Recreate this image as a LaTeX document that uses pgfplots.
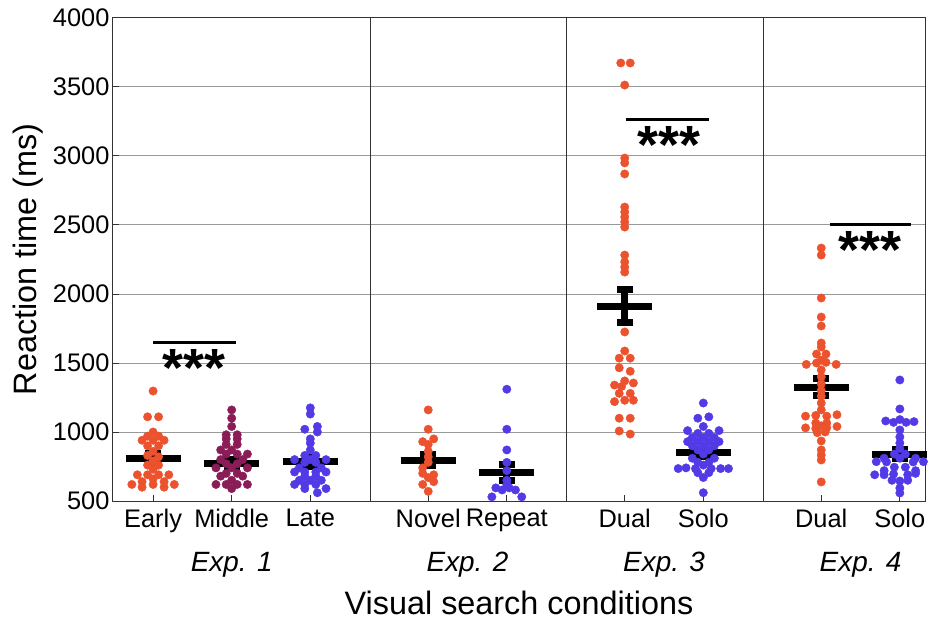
\documentclass[border=0pt]{standalone}
\usepackage{fontspec}
\setmainfont{Liberation Sans}
\usepackage{pgfplots}
\pgfplotsset{compat=1.18}

\definecolor{cRed}{RGB}{235,82,45}
\definecolor{cMag}{RGB}{138,28,88}
\definecolor{cBlu}{RGB}{82,58,230}
\newcommand{\tickfont}{\fontsize{25.5}{30}\selectfont}
\newcommand{\expfont}{\fontsize{28}{32}\selectfont\itshape}
\newcommand{\labfont}{\fontsize{32.5}{38}\selectfont}
\newcommand{\starfont}{\fontsize{54}{60}\selectfont\bfseries}

\begin{document}
\begin{tikzpicture}
\begin{axis}[
  scale only axis,
  width=812bp, height=483bp,
  xmin=0.49, xmax=10.82,
  ymin=500, ymax=4000,
  xtick={1,2,3,4.5,5.5,7,8,9.5,10.5},
  xticklabels={Early,Middle,Late,Novel,Repeat,Dual,Solo,Dual,Solo},
  ytick={500,1000,...,4000},
  scaled y ticks=false,
  /pgf/number format/assume math mode=true,
  /pgf/number format/1000 sep={},
  tick label style={font=\tickfont},
  xticklabel style={yshift=-5bp},
  tick align=inside,
  major tick length=6bp,
  xtick pos=bottom, ytick pos=left,
  ymajorgrids=true,
  grid style={black!40, line width=1bp},
  axis line style={black!80, line width=1bp},
  tick style={black!80, line width=1bp},
  xlabel={Visual search conditions},
  ylabel={Reaction time (ms)},
  label style={font=\labfont},
  xlabel style={at={(axis description cs:0.5,-0.21)}, anchor=center},
  ylabel style={at={(axis description cs:-0.104,0.5)}, rotate=0, anchor=center},
  clip=false,
  mark size=4.2bp,
  unbounded coords=jump,
]
% group separators
\addplot[black!80, line width=1bp] coordinates {(3.77,500) (3.77,4000)};
\addplot[black!80, line width=1bp] coordinates {(6.26,500) (6.26,4000)};
\addplot[black!80, line width=1bp] coordinates {(8.76,500) (8.76,4000)};

%% Exp. 1
% Early
\addplot[only marks, mark=*, color=cRed] coordinates {
 (1,1297) (0.93,1110) (1.07,1110) (1,1000) (0.93,970) (1.07,970)
 (0.86,940) (1,940) (1.14,940) (0.93,900) (1.07,900) (1,860)
 (0.93,830) (1.07,820) (1,790) (0.93,760) (1.07,760) (1,730)
 (0.8,690) (0.93,690) (1.07,690) (1.2,690) (1,660) (0.86,640) (1.14,640)
 (0.73,620) (1,620) (1.27,620) (0.86,600) (1.14,600)
};
% Middle
\addplot[only marks, mark=*, color=cMag] coordinates {
 (2,1160) (2,1100) (2,1040) (1.93,980) (2.07,980) (1.93,950) (2.07,950)
 (1.93,910) (2.07,910) (1.86,870) (2,870) (1.93,840) (2.07,840) (2.2,840)
 (1.86,800) (2.14,800) (1.93,770) (2.07,770) (1.8,740) (2,740) (2.2,740)
 (1.93,700) (2.07,700) (1.86,680) (2.14,680) (2,650)
 (1.8,620) (1.93,620) (2.07,620) (2.2,620) (2,590)
};
% Late
\addplot[only marks, mark=*, color=cBlu] coordinates {
 (3,1175) (3,1130) (3.09,1040) (2.93,1020) (3.09,1000) (3,950) (3,920)
 (3,870) (2.93,830) (3.07,830) (2.8,800) (3,800) (3.2,800) (2.93,780)
 (3.07,780) (2.86,740) (3.14,740) (2.8,710) (2.93,710) (3.07,710) (3.2,710)
 (2.93,680) (3.07,680) (2.86,650) (3,650) (3.14,650)
 (2.8,620) (2.93,620) (3.07,620) (2.93,590) (3.2,590) (3.09,560)
};

%% Exp. 2
% Novel
\addplot[only marks, mark=*, color=cRed] coordinates {
 (4.5,1160) (4.5,1020) (4.57,950) (4.43,930) (4.5,910) (4.5,860)
 (4.5,820) (4.5,780) (4.43,740) (4.43,700) (4.57,690) (4.5,670)
 (4.57,640) (4.43,620) (4.5,570)
};
% Repeat
\addplot[only marks, mark=*, color=cBlu] coordinates {
 (5.5,1310) (5.5,1020) (5.5,870) (5.5,780) (5.5,720) (5.5,650) (5.5,620)
 (5.36,595) (5.44,580) (5.53,595) (5.61,580) (5.31,530) (5.69,530)
};

%% Exp. 3
% Dual
\addplot[only marks, mark=*, color=cRed] coordinates {
 (6.95,3674) (7.07,3674) (7,3514) (7,2985) (7,2950) (7,2870)
 (7,2630) (7,2594) (7,2558) (7,2522) (7,2485)
 (7,2282) (7,2232) (7,2195) (7,2159) (7,1725) (7,1587)
 (6.93,1535) (7.07,1535) (6.93,1465) (7.07,1440)
 (6.87,1340) (7,1370) (7.11,1355) (6.96,1330)
 (6.93,1280) (7.07,1280) (6.87,1220) (7,1230) (7.11,1230)
 (6.93,1100) (7.07,1100) (6.93,1007) (7.07,985)
};
% Solo
\addplot[only marks, mark=*, color=cBlu] coordinates {
 (8,1210) (8.07,1110) (7.93,1100) (8,1040) (7.8,1010) (8.2,1010)
 (7.93,990) (8.07,990) (7.86,960) (8,960) (8.14,960)
 (7.8,930) (7.93,930) (8.07,930) (8.2,930) (7.86,900) (8,900) (8.14,900)
 (7.93,870) (8.07,870) (8,840) (7.86,810) (8.14,810) (7.93,780) (8.07,780)
 (7.68,735) (7.78,740) (7.9,735) (8,760) (8.1,735) (8.22,735) (8.32,735)
 (7.93,705) (8.07,705) (8,670) (8,560)
};

%% Exp. 4
% Dual
\addplot[only marks, mark=*, color=cRed] coordinates {
 (9.5,2333) (9.5,2282) (9.5,1971) (9.5,1833) (9.5,1768) (9.5,1645) (9.5,1616)
 (9.44,1565) (9.56,1565) (9.5,1520) (9.31,1490) (9.44,1500) (9.56,1505) (9.69,1490)
 (9.5,1450) (9.5,1400) (9.5,1350) (9.5,1300) (9.5,1260) (9.5,1210) (9.5,1160)
 (9.3,1115) (9.43,1120) (9.57,1115) (9.7,1125) (9.43,1065) (9.57,1065)
 (9.3,1030) (9.43,1025) (9.5,1045) (9.57,1030) (9.7,1040) (9.45,995) (9.55,1000)
 (9.5,935) (9.5,870) (9.5,833) (9.5,797) (9.5,638)
};
% Solo
\addplot[only marks, mark=*, color=cBlu] coordinates {
 (10.5,1377) (10.5,1167) (10.32,1080) (10.42,1070) (10.5,1090) (10.58,1070) (10.68,1075)
 (10.5,1015) (10.5,964) (10.5,920) (10.5,880) (10.43,840) (10.57,840)
 (10.3,810) (10.5,810) (10.7,810) (10.2,785) (10.33,783) (10.67,783) (10.8,785)
 (10.43,745) (10.57,745) (10.3,720) (10.7,720)
 (10.18,690) (10.3,690) (10.42,695) (10.6,690) (10.7,700)
 (10.4,650) (10.5,645) (10.6,650) (10.5,594) (10.5,558)
};

% mean bars
\addplot[black, line width=7bp] coordinates {
 (0.65,810) (1.35,810) (1,nan)
 (1.65,775) (2.35,775) (2,nan)
 (2.65,783) (3.35,783) (3,nan)
 (4.15,797) (4.85,797) (4.5,nan)
 (5.15,708) (5.85,708) (5.5,nan)
 (6.65,1913) (7.35,1913) (7,nan)
 (7.65,848) (8.35,848) (8,nan)
 (9.15,1326) (9.85,1326) (9.5,nan)
 (10.15,840) (10.85,840)
};

% SEM error bars: stems
\addplot[black, line width=7bp] coordinates {
 (1,775) (1,845) (1,nan)
 (2,747) (2,803) (2,nan)
 (3,751) (3,815) (3,nan)
 (4.5,754) (4.5,840) (4.5,nan)
 (5.5,650) (5.5,766) (5.5,nan)
 (7,1793) (7,2033) (7,nan)
 (8,823) (8,873) (8,nan)
 (9.5,1264) (9.5,1388) (9.5,nan)
 (10.5,810) (10.5,870)
};
% SEM error bars: caps
\addplot[black, line width=7bp] coordinates {
 (0.9,775) (1.1,775) (1,nan) (0.9,845) (1.1,845) (1,nan)
 (1.9,747) (2.1,747) (2,nan) (1.9,803) (2.1,803) (2,nan)
 (2.9,751) (3.1,751) (3,nan) (2.9,815) (3.1,815) (3,nan)
 (4.4,754) (4.6,754) (4.5,nan) (4.4,840) (4.6,840) (4.5,nan)
 (5.4,650) (5.6,650) (5.5,nan) (5.4,766) (5.6,766) (5.5,nan)
 (6.9,1793) (7.1,1793) (7,nan) (6.9,2033) (7.1,2033) (7,nan)
 (7.9,823) (8.1,823) (8,nan) (7.9,873) (8.1,873) (8,nan)
 (9.4,1264) (9.6,1264) (9.5,nan) (9.4,1388) (9.6,1388) (9.5,nan)
 (10.4,810) (10.6,810) (10.5,nan) (10.4,870) (10.6,870)
};

% significance
\addplot[black, line width=3bp] coordinates {(1.0,1652) (2.06,1652)};
\addplot[black, line width=3bp] coordinates {(7.02,3268) (8.07,3268)};
\addplot[black, line width=3bp] coordinates {(9.61,2507) (10.64,2507)};
\node[font=\starfont, anchor=base, inner sep=0pt, yshift=-31bp] at (axis cs:1.52,1551) {***};
\node[font=\starfont, anchor=base, inner sep=0pt, yshift=-31bp] at (axis cs:7.56,3167) {***};
\node[font=\starfont, anchor=base, inner sep=0pt, yshift=-31bp] at (axis cs:10.12,2409) {***};

% experiment labels
\node[font=\expfont, anchor=center, yshift=-64bp] at (axis cs:2,500) {Exp. 1};
\node[font=\expfont, anchor=center, yshift=-64bp] at (axis cs:5,500) {Exp. 2};
\node[font=\expfont, anchor=center, yshift=-64bp] at (axis cs:7.5,500) {Exp. 3};
\node[font=\expfont, anchor=center, yshift=-64bp] at (axis cs:10,500) {Exp. 4};

\coordinate (bl) at (rel axis cs:0,0);
\coordinate (tr) at (rel axis cs:1,1);
\end{axis}
\pgfresetboundingbox
\path[use as bounding box] ([xshift=-113bp,yshift=-120bp]bl) rectangle ([xshift=6bp,yshift=18bp]tr);
\end{tikzpicture}
\end{document}
